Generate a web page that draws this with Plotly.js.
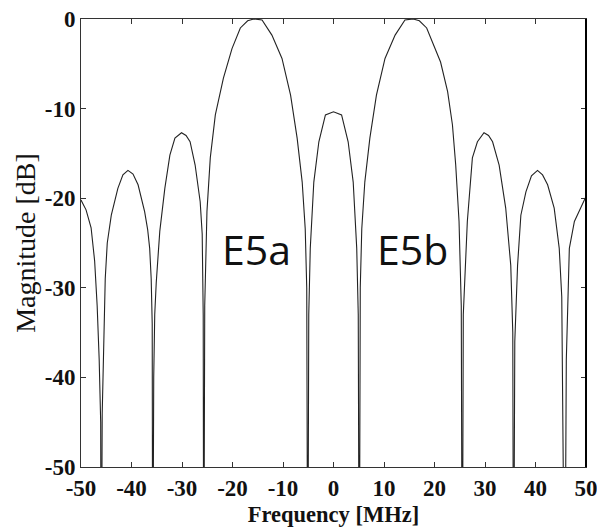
<!DOCTYPE html>
<html>
<head>
<meta charset="utf-8">
<script src="https://cdn.plot.ly/plotly-3.0.1.min.js"></script>
<style>
html,body{margin:0;padding:0;background:#fff;}
#chart{width:597px;height:532px;}
</style>
</head>
<body>
<div id="chart"></div>
<script>
// Frequency [MHz] and magnitude [dB]
const freqMHz = [
  -50, -49, -48, -47.3, -46.8, -46.4, -46.1, -46.0, -45.8, -45.5, -45.2, -44.8, -44, -42.7, -41.7, -40.7, -39.7, -38.7, -37.4, -36.8, -36.4, -36.1, -35.9, -35.8, -35.6, -35.4, -35.1,
  -34.4, -33.4, -32.4, -31.4, -30.1, -29.2, -28.4, -27.4, -26.4, -26.0, -25.8, -25.7, -25.5, -25.06,
  -24.4, -23.4, -21.8, -20.1, -18.45, -17, -15.8, -14.15, -12.2, -10.2, -8.5, -7.2, -6.2, -5.6, -5.3, -5.1, -4.9, -4.6,
  -3.9, -2.9, -1.6, 0, 1.6, 2.9, 3.9, 4.6, 4.9, 5.1, 5.3, 5.6, 6.2, 7.2, 8.5, 10.2, 12.2, 14.15, 15.8, 17, 18.45, 20.1,
  21.2, 22.6, 23.55, 24.2, 24.86, 25.3, 25.5, 25.7, 26.5, 27.5, 28.5, 29.8, 30.7, 31.5, 32.8, 34.1, 35.1, 35.5, 35.65, 35.9,
  36.45, 37.1, 38.1, 39.2, 40.4, 41.4, 42.4, 43.7, 44.7, 45.2, 45.5, 45.8, 46.1, 46.7, 47.7, 49.7, 50
];
const magnitudeDB = [
  -20.2, -21.3, -23.3, -27, -32, -38, -45, -70, -44, -36, -29, -25, -21.9, -18.9, -17.4, -16.9, -17.3, -18.5, -21.5, -23.5, -25.6, -29, -34, -70, -40, -33, -29.4,
  -23.7, -18.9, -15.2, -13.3, -12.7, -13.0, -13.7, -16.3, -20.4, -24, -33, -70, -32, -21.5,
  -15.5, -10.7, -6.6, -3.3, -1.0, -0.2, 0, -0.1, -1.8, -4.4, -8.5, -13.3, -18.2, -23.4, -30, -70, -33, -25.6,
  -18.2, -13.7, -10.7, -10.35, -10.7, -13.7, -18.2, -25.6, -33, -70, -30, -23.4, -18.2, -13.3, -8.5, -4.4, -1.8, -0.1, 0, -0.2, -1.0, -3.3,
  -4.8, -8.1, -11.8, -16.3, -22.6, -32, -70, -33, -22.6, -15.5, -13.7, -12.7, -13.0, -13.7, -16.3, -21.1, -27.5, -35, -70, -36,
  -27.5, -21.9, -19.3, -17.5, -16.9, -17.4, -18.5, -21.1, -25.6, -31, -40, -70, -38, -25.6, -22.6, -20.0, -19.8
];
const xTicks = [-50, -40, -30, -20, -10, 0, 10, 20, 30, 40, 50];
const yTicks = [-50, -40, -30, -20, -10, 0];
const bandLabels = ["E5a", "E5b"];
const bandCentersMHz = [-15.3, 15.6];
const bandLabelDB = [-25.7, -25.7];

const serif = "'Liberation Serif', 'Times New Roman', serif";

const trace = {
  x: freqMHz,
  y: magnitudeDB,
  type: 'scatter',
  mode: 'lines',
  line: {color: '#222', width: 1.1},
  hoverinfo: 'skip'
};

const annotations = bandLabels.map((t, i) => ({
  x: bandCentersMHz[i], y: bandLabelDB[i], xref: 'x', yref: 'y',
  text: t, showarrow: false, xanchor: 'center', yanchor: 'middle',
  font: {family: "'Open Sans', 'Noto Sans', sans-serif", size: 41, color: '#111'}
}));

const layout = {
  width: 597, height: 532,
  margin: {l: 81, r: 11, t: 19, b: 65},
  paper_bgcolor: '#fff', plot_bgcolor: '#fff',
  showlegend: false,
  xaxis: {
    range: [-50, 50], tickvals: xTicks, ticktext: xTicks.map(String),
    ticks: 'inside', ticklen: 5, tickcolor: '#333', tickwidth: 1,
    showline: true, linecolor: '#333', linewidth: 1, mirror: 'ticks',
    showgrid: false, zeroline: false, ticklabeloverflow: 'allow',
    tickfont: {family: serif, size: 23, color: '#111', weight: 'bold'},
    title: {text: 'Frequency [MHz]', standoff: 6, font: {family: serif, size: 22.5, color: '#111', weight: 'bold'}}
  },
  yaxis: {
    range: [-50, 0], tickvals: yTicks, ticktext: yTicks.map(String),
    ticks: 'inside', ticklen: 5, tickcolor: '#333', tickwidth: 1,
    showline: true, linecolor: '#333', linewidth: 1, mirror: 'ticks',
    showgrid: false, zeroline: false, ticklabeloverflow: 'allow',
    tickfont: {family: serif, size: 23, color: '#111', weight: 'bold'},
    title: {text: 'Magnitude [dB]', standoff: 0, font: {family: serif, size: 28, color: '#111'}}
  },
  shapes: [{type: 'line', xref: 'paper', yref: 'paper', x0: 1, x1: 1, y0: 0, y1: 1, line: {color: '#000', width: 2}}],
  annotations: annotations
};

Plotly.newPlot('chart', [trace], layout, {displayModeBar: false, staticPlot: true});
</script>
</body>
</html>
